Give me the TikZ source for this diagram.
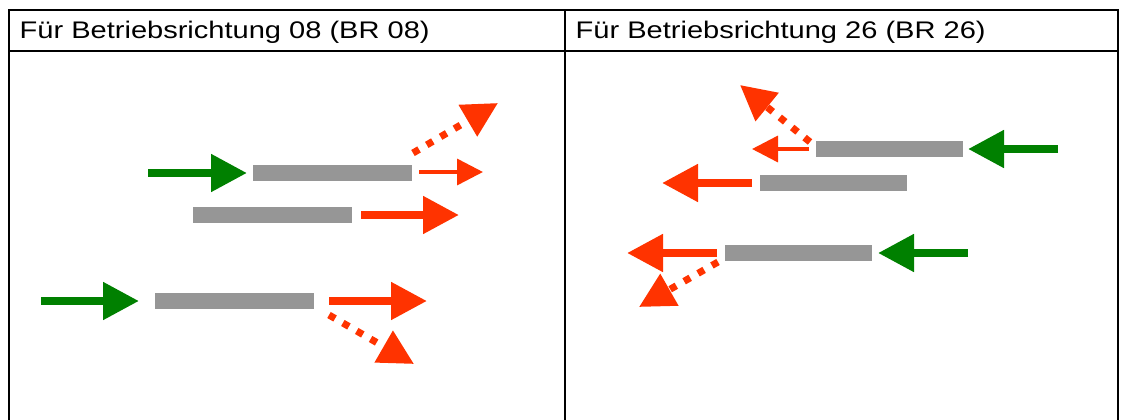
\documentclass[tikz,border=0pt]{standalone}
\usepackage{fontspec}
\setmainfont{Liberation Sans}
\usetikzlibrary{arrows.meta}
\definecolor{tgreen}{RGB}{0,128,0}
\definecolor{tred}{RGB}{255,51,0}
\definecolor{tgray}{RGB}{150,150,150}
\newcommand{\hstretch}[1]{\scalebox{1.21}[1]{#1}}
\begin{document}
\begin{tikzpicture}[x=1pt,y=-1pt,
  bar/.style={fill=tgray, draw=none, inner sep=0pt, minimum height=16pt, minimum width=159pt},
  barshort/.style={bar, minimum width=147pt},
  greenarr/.style={color=tgreen, line width=8pt, -{Triangle[length=36pt,width=36pt]}},
  redbig/.style={color=tred, line width=8pt, -{Triangle[length=36pt,width=36pt]}},
  redthin/.style={color=tred, line width=3.5pt, -{Triangle[length=26pt,width=26pt]}},
  reddot/.style={color=tred, line width=7pt, dash pattern=on 7pt off 9pt, -{Triangle[length=35pt,width=35pt]}},
  frame/.style={line width=2pt, black},
  head/.style={anchor=base west, inner sep=0pt, font=\fontsize{24}{28}\selectfont}]
\useasboundingbox (0,0) rectangle (1121,420);
% table
\draw[frame] (9,420) -- (9,10) -- (1118,10) -- (1118,420);
\draw[frame] (565,10) -- (565,420);
\draw[frame] (9,51.5) -- (1118,51.5);
\node[head] (h1) at (19.5,38.5) {\hstretch{Für Betriebsrichtung 08 (BR 08)}};
\node[head] (h2) at (575.5,38.5) {\hstretch{Für Betriebsrichtung 26 (BR 26)}};
% ---- BR 08 ----
\node[bar] (b1) at (332.5,173) {};
\node[bar] (b2) at (272.5,215) {};
\node[bar] (b3) at (234.5,301) {};
\coordinate (g1s) at (148,173); \coordinate (g1e) at (247,173);
\draw[greenarr] (g1s) -- (g1e);
\coordinate (r1s) at (419,172); \coordinate (r1e) at (483,172);
\draw[redthin] (r1s) -- (r1e);
\coordinate (d1s) at (413,153); \coordinate (d1e) at (498,103);
\draw[reddot] (d1s) -- (d1e);
\coordinate (r2s) at (361,215); \coordinate (r2e) at (459,215);
\draw[redbig] (r2s) -- (r2e);
\coordinate (g2s) at (41,301); \coordinate (g2e) at (139,301);
\draw[greenarr] (g2s) -- (g2e);
\coordinate (r3s) at (329,301); \coordinate (r3e) at (427,301);
\draw[redbig] (r3s) -- (r3e);
\coordinate (d2s) at (329,315); \coordinate (d2e) at (414,364);
\draw[reddot] (d2s) -- (d2e);
% ---- BR 26 ----
\node[barshort] (b4) at (889.5,149) {};
\node[barshort] (b5) at (833.5,183) {};
\node[barshort] (b6) at (798.5,253) {};
\coordinate (g3s) at (1058,149); \coordinate (g3e) at (968,149);
\draw[greenarr] (g3s) -- (g3e);
\coordinate (r4s) at (809,149); \coordinate (r4e) at (752,149);
\draw[redthin] (r4s) -- (r4e);
\coordinate (d3s) at (810,142); \coordinate (d3e) at (740,85);
\draw[reddot] (d3s) -- (d3e);
\coordinate (r5s) at (752,183); \coordinate (r5e) at (662,183);
\draw[redbig] (r5s) -- (r5e);
\coordinate (g4s) at (968,253); \coordinate (g4e) at (878,253);
\draw[greenarr] (g4s) -- (g4e);
\coordinate (r6s) at (717,253); \coordinate (r6e) at (627,253);
\draw[redbig] (r6s) -- (r6e);
\coordinate (d4s) at (718,262); \coordinate (d4e) at (639,307);
\draw[reddot] (d4s) -- (d4e);
\end{tikzpicture}
\end{document}
